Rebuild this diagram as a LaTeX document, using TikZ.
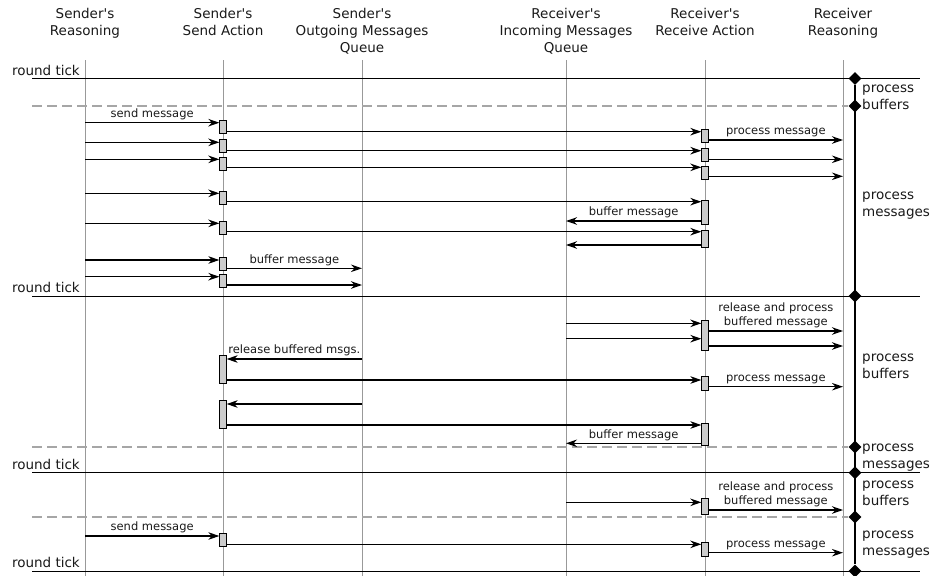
\documentclass[tikz,border=0pt]{standalone}
\usepackage{fontspec}
\setmainfont{DejaVu Sans}[Ligatures=TeXOff]
\usetikzlibrary{arrows.meta,shapes.geometric}
\begin{document}
\begin{tikzpicture}[x=1pt,y=-1pt,
 life/.style={draw=black!40,line width=1pt},
 msg/.style={draw=black,line width=1.3pt,-{Stealth[length=11pt,width=7.5pt,inset=3.5pt]}},
 act/.style={rectangle,draw=black,fill=black!20,line width=0.8pt,minimum width=6.5pt,inner sep=0pt},
 tickline/.style={draw=black,line width=1pt},
 dashline/.style={draw=black!35,line width=1.2pt,dash pattern=on 10pt off 5pt},
 dia/.style={diamond,fill=black,inner sep=0pt,minimum width=13pt,minimum height=13pt},
 lbl/.style={font=\fontsize{11.5}{14}\selectfont,align=center,inner sep=2pt,text=black!90},
 hdr/.style={font=\fontsize{13.5}{17}\selectfont,align=center,anchor=base,inner sep=0pt,text=black!90},
 side/.style={font=\fontsize{13.5}{17}\selectfont,align=left,anchor=base west,inner sep=0pt,text=black!90},
 ticklbl/.style={font=\fontsize{13.5}{17}\selectfont,anchor=base east,inner sep=0pt,text=black!90},
]
\useasboundingbox (0,0) rectangle (935,576);

% headers (anchor = baseline of last line)
\node[hdr] (h1) at (85,35.3) {Sender's\\Reasoning};
\node[hdr] (h2) at (223,35.3) {Sender's\\Send Action};
\node[hdr] (h3) at (362,52.3) {Sender's\\Outgoing Messages\\Queue};
\node[hdr] (h4) at (566,52.3) {Receiver's\\Incoming Messages\\Queue};
\node[hdr] (h5) at (705,35.3) {Receiver's\\Receive Action};
\node[hdr] (h6) at (843,35.3) {Receiver\\Reasoning};

% lifelines
\coordinate (SR) at (85,60);  \coordinate (SRb) at (85,576);
\coordinate (SA) at (223,60); \coordinate (SAb) at (223,576);
\coordinate (SQ) at (362,60); \coordinate (SQb) at (362,576);
\coordinate (RQ) at (566,60); \coordinate (RQb) at (566,576);
\coordinate (RA) at (705,60); \coordinate (RAb) at (705,576);
\coordinate (RR) at (843,60); \coordinate (RRb) at (843,576);
\draw[life] (SR) -- (SRb);
\draw[life] (SA) -- (SAb);
\draw[life] (SQ) -- (SQb);
\draw[life] (RQ) -- (RQb);
\draw[life] (RA) -- (RAb);
\draw[life] (RR) -- (RRb);

% diamonds and receiver process line
\node[dia] (d1) at (855,78.5) {};
\node[dia] (d2) at (855,106) {};
\node[dia] (d3) at (855,296) {};
\node[dia] (d4) at (855,447) {};
\node[dia] (d5) at (855,472.7) {};
\node[dia] (d6) at (855,517) {};
\node[dia] (d7) at (855,571) {};
\draw[black,line width=1.2pt] (d1) -- (d7);

% round ticks
\coordinate (t1s) at (32,78.5);  \coordinate (t1e) at (920,78.5);
\coordinate (t2s) at (32,296);   \coordinate (t2e) at (920,296);
\coordinate (t3s) at (32,472.7); \coordinate (t3e) at (920,472.7);
\coordinate (t4s) at (32,571);   \coordinate (t4e) at (920,571);
\draw[tickline] (t1s) -- (t1e);
\draw[tickline] (t2s) -- (t2e);
\draw[tickline] (t3s) -- (t3e);
\draw[tickline] (t4s) -- (t4e);
\node[ticklbl] (rt1) at (80,75.2) {round tick};
\node[ticklbl] (rt2) at (80,292.7) {round tick};
\node[ticklbl] (rt3) at (80,469.4) {round tick};
\node[ticklbl] (rt4) at (80,567.7) {round tick};

% dashed phase lines
\coordinate (ds1) at (32,106);
\coordinate (ds2) at (32,447);
\coordinate (ds3) at (32,517);
\draw[dashline] (ds1) -- (d2);
\draw[dashline] (ds2) -- (d4);
\draw[dashline] (ds3) -- (d6);

% side labels (anchor = baseline of last line)
\node[side] (p1) at (862,109.8) {process\\buffers};
\node[side] (p2) at (862,216.5) {process\\messages};
\node[side] (p3) at (862,378.3) {process\\buffers};
\node[side] (p4) at (862,468.3) {process\\messages};
\node[side] (p5) at (862,505.3) {process\\buffers};
\node[side] (p6) at (862,555.3) {process\\messages};

% activation boxes, sender side
\node[act,minimum height=13pt] (A1) at (223,127) {};
\node[act,minimum height=13pt] (A2) at (223,146.1) {};
\node[act,minimum height=13pt] (A3) at (223,163.4) {};
\node[act,minimum height=13pt] (A4) at (223,197.6) {};
\node[act,minimum height=13pt] (A5) at (223,227.6) {};
\node[act,minimum height=13.4pt] (A6) at (223,264) {};
\node[act,minimum height=13pt] (A7) at (223,280.6) {};
\node[act,minimum height=28.4pt] (A8) at (223,369.5) {};
\node[act,minimum height=28.3pt] (A9) at (223,414.2) {};
\node[act,minimum height=13pt] (A10) at (223,540.2) {};

% activation boxes, receiver side
\node[act,minimum height=13pt] (B1) at (705,135.8) {};
\node[act,minimum height=13.4pt] (B2) at (705,155) {};
\node[act,minimum height=13pt] (B3) at (705,172.5) {};
\node[act,minimum height=24pt] (B4) at (705,212) {};
\node[act,minimum height=17.7pt] (B5) at (705,238.8) {};
\node[act,minimum height=30.7pt] (B6) at (705,335.3) {};
\node[act,minimum height=14.7pt] (B7) at (705,383.3) {};
\node[act,minimum height=22.4pt] (B8) at (705,434.5) {};
\node[act,minimum height=15.7pt] (B9) at (705,506.2) {};
\node[act,minimum height=13.3pt] (B10) at (705,549.3) {};

% send messages
\draw[msg] (SR |- 0,122.7) -- node[lbl,above] (l1) {send message} (A1.west |- 0,122.7);
\draw[msg] (SR |- 0,142.3) -- (A2.west |- 0,142.3);
\draw[msg] (SR |- 0,159.3) -- (A3.west |- 0,159.3);
\draw[msg] (SR |- 0,193.3) -- (A4.west |- 0,193.3);
\draw[msg] (SR |- 0,223.3) -- (A5.west |- 0,223.3);
\draw[msg] (SR |- 0,260) -- (A6.west |- 0,260);
\draw[msg] (SR |- 0,276.7) -- (A7.west |- 0,276.7);
\draw[msg] (SR |- 0,536) -- node[lbl,above] (l2) {send message} (A10.west |- 0,536);

% forwarded messages
\draw[msg] (A1.east |- 0,131.7) -- (B1.west |- 0,131.7);
\draw[msg] (A2.east |- 0,150.7) -- (B2.west |- 0,150.7);
\draw[msg] (A3.east |- 0,167.3) -- (B3.west |- 0,167.3);
\draw[msg] (A4.east |- 0,201.7) -- (B4.west |- 0,201.7);
\draw[msg] (A5.east |- 0,231.7) -- (B5.west |- 0,231.7);
\draw[msg] (A8.east |- 0,380) -- (B7.west |- 0,380);
\draw[msg] (A9.east |- 0,425) -- (B8.west |- 0,425);
\draw[msg] (A10.east |- 0,544.3) -- (B10.west |- 0,544.3);

% process messages
\draw[msg] (B1.east |- 0,140) -- node[lbl,above] (l3) {process message} (RR |- 0,140);
\draw[msg] (B2.east |- 0,159.3) -- (RR |- 0,159.3);
\draw[msg] (B3.east |- 0,176.3) -- (RR |- 0,176.3);
\draw[msg] (B6.east |- 0,331) -- node[lbl,above] (l4) {release and process\\buffered message} (RR |- 0,331);
\draw[msg] (B6.east |- 0,346) -- (RR |- 0,346);
\draw[msg] (B7.east |- 0,386.7) -- node[lbl,above] (l5) {process message} (RR |- 0,386.7);
\draw[msg] (B9.east |- 0,510) -- node[lbl,above] (l6) {release and process\\buffered message} (RR |- 0,510);
\draw[msg] (B10.east |- 0,552.7) -- node[lbl,above] (l7) {process message} (RR |- 0,552.7);

% buffer messages (receiver)
\draw[msg] (B4.west |- 0,221) -- node[lbl,above] (l8) {buffer message} (RQ |- 0,221);
\draw[msg] (B5.west |- 0,245) -- (RQ |- 0,245);
\draw[msg] (B8.west |- 0,443.3) -- node[lbl,above] (l9) {buffer message} (RQ |- 0,443.3);

% buffer messages (sender)
\draw[msg] (A6.east |- 0,268.3) -- node[lbl,above] (l10) {buffer message} (SQ |- 0,268.3);
\draw[msg] (A7.east |- 0,285) -- (SQ |- 0,285);

% release buffered (sender)
\draw[msg] (SQ |- 0,359) -- node[lbl,above] (l11) {release buffered msgs.} (A8.east |- 0,359);
\draw[msg] (SQ |- 0,404) -- (A9.east |- 0,404);

% release buffered (receiver)
\draw[msg] (RQ |- 0,323.3) -- (B6.west |- 0,323.3);
\draw[msg] (RQ |- 0,338.7) -- (B6.west |- 0,338.7);
\draw[msg] (RQ |- 0,502.3) -- (B9.west |- 0,502.3);
\end{tikzpicture}
\end{document}
